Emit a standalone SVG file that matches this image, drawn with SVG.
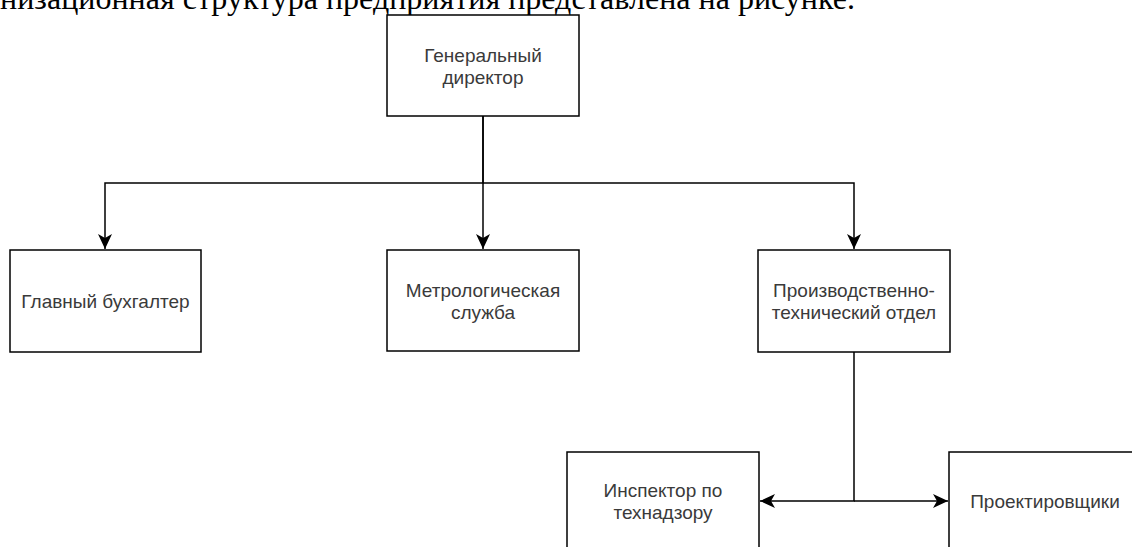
<svg xmlns="http://www.w3.org/2000/svg" width="1132" height="547" viewBox="0 0 1132 547">
  <style>
    .box { fill: #ffffff; stroke: #000000; stroke-width: 1.5; }
    .lbl { font-family: "Liberation Sans", Arial, sans-serif; font-size: 19px; fill: #3a3a3a; text-anchor: middle; }
    .edge { fill: none; stroke: #000000; stroke-width: 1.5; }
    .cap { font-family: "Liberation Serif", "Times New Roman", serif; font-size: 31px; fill: #000000; }
  </style>
  <defs>
    <marker id="arr" viewBox="-16 -9 17 18" refX="0" refY="0" markerWidth="17" markerHeight="18" markerUnits="userSpaceOnUse" orient="auto">
      <path d="M 0 0 L -15 -7 L -11 0 L -15 7 Z" fill="#000000"/>
    </marker>
  </defs>
  <rect width="1132" height="547" fill="#ffffff"/>
  <text class="cap" x="0" y="9" textLength="855" lengthAdjust="spacingAndGlyphs">низационная структура предприятия представлена на рисунке.</text>

  <g id="connectors">
    <path class="edge" d="M 483 116 L 483 183 L 105 183 L 105 249" marker-end="url(#arr)"/>
    <path class="edge" d="M 483 116 L 483 249" marker-end="url(#arr)"/>
    <path class="edge" d="M 483 183 L 854 183 L 854 249" marker-end="url(#arr)"/>
    <path class="edge" d="M 854 352 L 854 501 L 760 501" marker-end="url(#arr)"/>
    <path class="edge" d="M 854 501 L 948 501" marker-end="url(#arr)"/>
  </g>

  <g id="node-gendir">
    <rect class="box" x="387" y="15" width="192" height="101"/>
    <text class="lbl" x="483" y="62">Генеральный</text>
    <text class="lbl" x="483" y="84">директор</text>
  </g>
  <g id="node-buh">
    <rect class="box" x="10" y="250" width="191" height="102"/>
    <text class="lbl" x="105.5" y="308">Главный бухгалтер</text>
  </g>
  <g id="node-metro">
    <rect class="box" x="387" y="250" width="192" height="101"/>
    <text class="lbl" x="483" y="297">Метрологическая</text>
    <text class="lbl" x="483" y="319">служба</text>
  </g>
  <g id="node-pto">
    <rect class="box" x="758" y="250" width="192" height="102"/>
    <text class="lbl" x="854" y="297">Производственно-</text>
    <text class="lbl" x="854" y="319">технический отдел</text>
  </g>
  <g id="node-inspector">
    <rect class="box" x="567" y="452" width="192" height="102"/>
    <text class="lbl" x="663" y="497">Инспектор по</text>
    <text class="lbl" x="663" y="519">технадзору</text>
  </g>
  <g id="node-proekt">
    <rect class="box" x="949" y="452" width="192" height="102"/>
    <text class="lbl" x="1045" y="508">Проектировщики</text>
  </g>
</svg>
